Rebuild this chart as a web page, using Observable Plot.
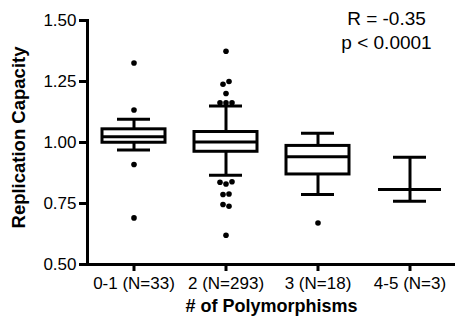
<!DOCTYPE html>
<html>
<head>
<meta charset="utf-8">
<script src="https://cdn.jsdelivr.net/npm/d3@7"></script>
<script src="https://cdn.jsdelivr.net/npm/@observablehq/plot@0.6"></script>
<style>
  html, body { margin: 0; padding: 0; background: #fff; }
  #chart svg { display: block; }
</style>
</head>
<body>
<div id="chart"></div>
<script>
// ---- data ----
const categories = ["0-1 (N=33)", "2 (N=293)", "3 (N=18)", "4-5 (N=3)"];
const whiskerLow  = [0.969, 0.866, 0.787, 0.759];
const q1          = [0.999, 0.962, 0.869, 0.807];
const median      = [1.024, 1.002, 0.942, 0.807];
const q3          = [1.054, 1.043, 0.986, 0.807];
const whiskerHigh = [1.095, 1.150, 1.038, 0.940];

const outlierGroup = [0, 0, 0, 0,
  1, 1, 1, 1, 1, 1, 1, 1, 1, 1, 1, 1, 1, 1, 1,
  2];
const outlierValue = [1.326, 1.133, 0.910, 0.691,
  1.374, 1.239, 1.250, 1.201, 1.163, 1.163, 1.163, 0.837, 0.830, 0.839, 0.787, 0.789, 0.746, 0.739, 0.620,
  0.670];

const yTicks = [0.50, 0.75, 1.00, 1.25, 1.50];
const statText = ["R = -0.35", "p < 0.0001"];
const xLabel = "# of Polymorphisms";
const yLabel = "Replication Capacity";

// ---- build tables ----
const boxes = categories.map((c, i) => ({
  cat: c, lo: whiskerLow[i], q1: q1[i], med: median[i], q3: q3[i], hi: whiskerHigh[i]
}));
const outliers = outlierValue.map((v, i) => ({cat: categories[outlierGroup[i]], value: v}));

// spread overlapping outlier dots side by side (Prism style)
const tol = 0.015;
let cluster = [];
const clusters = [];
for (const o of outliers) {
  if (cluster.length && (cluster[0].cat !== o.cat || Math.abs(cluster[0].value - o.value) >= tol)) {
    clusters.push(cluster); cluster = [];
  }
  cluster.push(o);
}
if (cluster.length) clusters.push(cluster);
for (const c of clusters) c.forEach((o, k) => o.slot = k - (c.length - 1) / 2);
const slots = Array.from(new Set(outliers.map(o => o.slot)));
const gap = 6;

const font = "'Liberation Sans', Arial, Helvetica, sans-serif";
const sw = 3;

const plot = Plot.plot({
  width: 455,
  height: 326,
  marginLeft: 87,
  marginRight: 0,
  marginTop: 20,
  marginBottom: 62,
  style: {fontFamily: font, fontSize: "17px", color: "#000", background: "#fff"},
  x: {domain: categories, paddingInner: 0.32, paddingOuter: 0.16, label: null},
  y: {domain: [0.5, 1.5], label: null},
  marks: [
    Plot.axisY({ticks: yTicks, tickFormat: d3.format(".2f"), tickSize: 8, tickPadding: 3,
      fontSize: 17, strokeWidth: sw, label: null}),
    Plot.axisX({tickSize: 7, tickPadding: 5, fontSize: 17, strokeWidth: sw, label: null}),
    // whiskers
    Plot.ruleX(boxes, {x: "cat", y1: "lo", y2: "q1", stroke: "#000", strokeWidth: sw}),
    Plot.ruleX(boxes, {x: "cat", y1: "q3", y2: "hi", stroke: "#000", strokeWidth: sw}),
    // caps
    Plot.tickY(boxes, {x: "cat", y: "lo", stroke: "#000", strokeWidth: sw, insetLeft: 15, insetRight: 15}),
    Plot.tickY(boxes, {x: "cat", y: "hi", stroke: "#000", strokeWidth: sw, insetLeft: 15, insetRight: 15}),
    // boxes
    Plot.barY(boxes.filter(d => d.q1 !== d.q3), {x: "cat", y1: "q1", y2: "q3", fill: "#fff", stroke: "#000", strokeWidth: sw}),
    // median
    Plot.tickY(boxes, {x: "cat", y: "med", stroke: "#000", strokeWidth: sw}),
    // outliers
    ...slots.map(s => Plot.dot(outliers.filter(o => o.slot === s),
      {x: "cat", y: "value", dx: s * gap, r: 2.8, fill: "#000", stroke: null})),
    // axis lines
    Plot.frame({anchor: "left", stroke: "#000", strokeWidth: sw, strokeLinecap: "square"}),
    Plot.frame({anchor: "bottom", stroke: "#000", strokeWidth: sw, strokeLinecap: "square"}),
    // axis titles
    Plot.text([yLabel], {frameAnchor: "left", rotate: -90, dx: -68, dy: -5, textAnchor: "middle",
      fontSize: 18.5, fontWeight: "bold", fill: "#000"}),
    Plot.text([xLabel], {frameAnchor: "bottom", dy: 47, textAnchor: "middle",
      fontSize: 18, fontWeight: "bold", fill: "#000"}),
    // statistics
    Plot.text([statText.join("\n")], {frameAnchor: "top-right", dx: -69, dy: -12, textAnchor: "middle",
      lineAnchor: "top", lineHeight: 1.25, fontSize: 19, fill: "#000"})
  ]
});
document.getElementById("chart").appendChild(plot);
</script>
</body>
</html>
